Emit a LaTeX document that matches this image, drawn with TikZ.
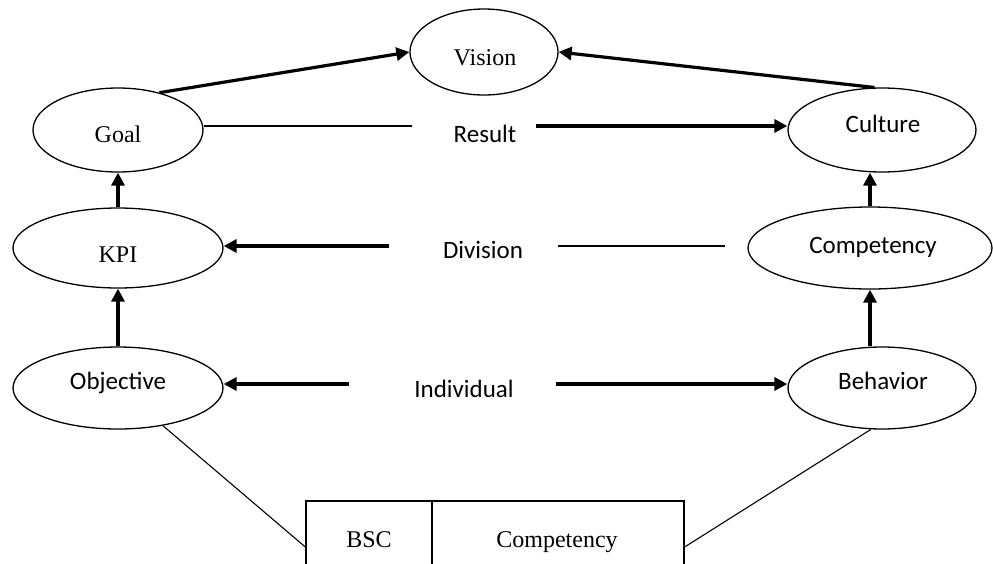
\documentclass[tikz,border=0pt]{standalone}
\usepackage{fontspec}
\setmainfont{Liberation Serif}
\newfontfamily\sansfont{Carlito}
\usetikzlibrary{shapes.geometric,arrows.meta}

\begin{document}
\begin{tikzpicture}[x=1pt,y=-1pt,
  oval/.style={ellipse, draw, line width=1.3pt, inner sep=0pt},
  boxcell/.style={rectangle, draw, line width=1.3pt, inner sep=0pt, minimum height=72pt},
  serif/.style={anchor=base, inner sep=0pt, font=\fontsize{24}{28}\selectfont},
  sans/.style={anchor=base, inner sep=0pt, font=\sansfont\fontsize{25}{30}\selectfont},
  flow/.style={line width=3.2pt, -{Triangle[length=13pt,width=13pt]}},
  plain/.style={line width=1.3pt}]
\useasboundingbox (0,0) rectangle (993,563);

% ellipses
\node[oval, minimum width=148pt, minimum height=86pt] (vision) at (484,52) {};
\node[oval, minimum width=170pt, minimum height=84pt] (goal) at (118,130) {};
\node[oval, minimum width=188pt, minimum height=84pt] (culture) at (882,130) {};
\node[oval, minimum width=210pt, minimum height=80pt] (kpi) at (118,248) {};
\node[oval, minimum width=244pt, minimum height=82pt] (competency) at (870,248) {};
\node[oval, minimum width=210pt, minimum height=82pt] (objective) at (118,388) {};
\node[oval, minimum width=188pt, minimum height=82pt] (behavior) at (882,388) {};

% ellipse texts
\node[serif] (vision-t) at (485,65) {Vision};
\node[serif] (goal-t) at (118,142) {Goal};
\node[sans] (culture-t) at (883,132) {Culture};
\node[serif] (kpi-t) at (118,262) {KPI};
\node[sans] (competency-t) at (873,253) {Competency};
\node[sans] (objective-t) at (118,389) {Objective};
\node[sans] (behavior-t) at (883,389) {Behavior};

% level labels
\node[sans] (result) at (485,142) {Result};
\node[sans] (division) at (483,258) {Division};
\node[sans] (individual) at (464,397) {Individual};

% bottom table, cut off by the page edge
\begin{scope}
\clip (0,0) rectangle (993,563);
\node[boxcell, minimum width=126pt] (bsc) at (369,537) {};
\node[boxcell, minimum width=252pt] (compbox) at (558,537) {};
\end{scope}
\node[serif] (bsc-t) at (369,547) {BSC};
\node[serif] (compbox-t) at (557,547) {Competency};

% free ends of the level connectors
\coordinate (r1) at (412,126);
\coordinate (r2) at (536,126);
\coordinate (d1) at (389,246);
\coordinate (d2) at (558,246);
\coordinate (d3) at (725,246);
\coordinate (i1) at (349,384);
\coordinate (i2) at (556,384);

% top level
\draw[flow] (goal.42) -- (vision.west);
\draw[flow] (culture.100) -- (vision.east);
\draw[plain] (goal.east |- r1) -- (r1);
\draw[flow] (r2) -- (r2 -| culture.west);

% division level
\draw[flow] (d1) -- (d1 -| kpi.east);
\draw[plain] (d2) -- (d3);

% individual level
\draw[flow] (i1) -- (i1 -| objective.east);
\draw[flow] (i2) -- (i2 -| behavior.west);

% vertical links
\draw[flow] (kpi.north) -- (goal.south);
\draw[flow] (objective.north) -- (kpi.south);
\draw[flow] (competency.north) -- (competency.north |- culture.south);
\draw[flow] (competency.south |- behavior.north) -- (competency.south);

% links to the table
\draw[line width=1.1pt] (objective.-40) -- ([yshift=-10pt]bsc.west);
\draw[line width=1.1pt] (behavior.-105) -- ([yshift=-10pt]compbox.east);
\end{tikzpicture}
\end{document}
